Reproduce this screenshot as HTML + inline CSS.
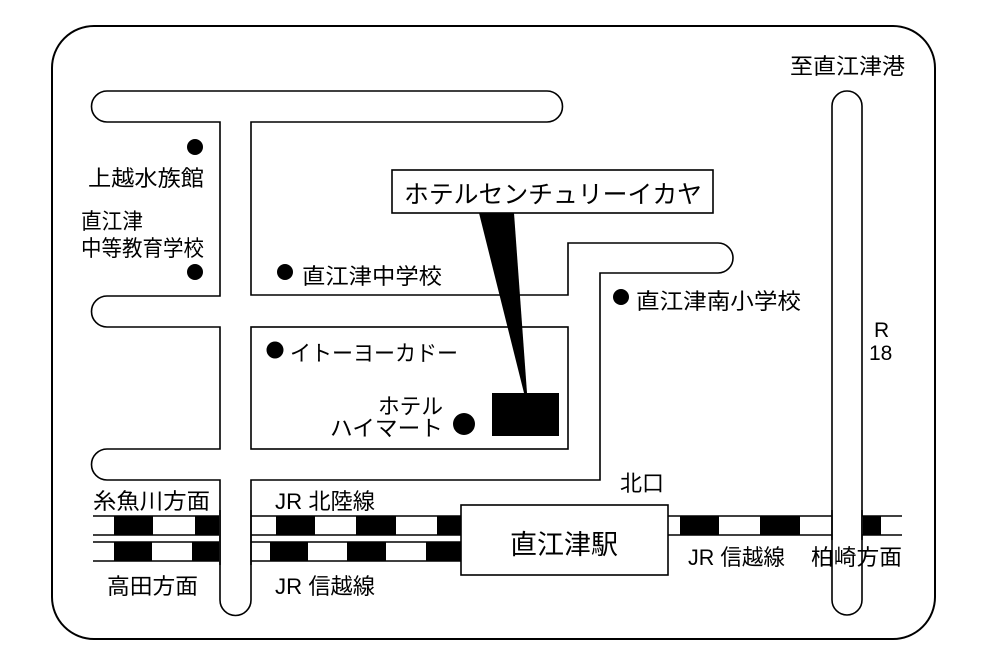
<!DOCTYPE html>
<html><head><meta charset="utf-8"><style>
html,body{margin:0;padding:0;background:#fff;}
svg{display:block;}
text{font-family:"Liberation Sans","Noto Sans CJK JP",sans-serif;fill:#000;}
</style></head><body>
<svg width="987" height="663" viewBox="0 0 987 663" xmlns="http://www.w3.org/2000/svg">
<rect x="0" y="0" width="987" height="663" fill="#fff"/>
<rect x="52" y="26" width="883" height="613" rx="42" ry="42" fill="none" stroke="#000" stroke-width="2"/>
<g fill="none" stroke="#000" stroke-width="1.6">
<path d="M107 91 H547 A15.5 15.5 0 0 1 547 122 H251 V295 H568 V243 H718 A15 15 0 0 1 718 273 H600 V480 H251 V600 A15.5 15.5 0 0 1 220 600 V480 H107 A15.5 15.5 0 0 1 107 449 H220 V327 H107 A15.5 15.5 0 0 1 107 296 H220 V122 H107 A15.5 15.5 0 0 1 107 91 Z"/>
<rect x="251" y="327" width="317" height="122"/>
<path d="M832 600 V106 A15 15 0 0 1 862 106 V600 A15 15 0 0 1 832 600"/>
</g>
<!-- rails -->
<g fill="#fff">
<rect x="93" y="516" width="126" height="19"/>
<rect x="93" y="542" width="126" height="19"/>
<rect x="252" y="516" width="209" height="19"/>
<rect x="252" y="542" width="209" height="19"/>
<rect x="668" y="516" width="163" height="19"/>
<rect x="863" y="516" width="39" height="19"/>
</g>
<g stroke="#000" stroke-width="1.4">
<line x1="93" y1="516" x2="219" y2="516"/><line x1="93" y1="535" x2="219" y2="535"/>
<line x1="93" y1="542" x2="219" y2="542"/><line x1="93" y1="561" x2="219" y2="561"/>
<line x1="251" y1="516" x2="461" y2="516"/><line x1="251" y1="535" x2="461" y2="535"/>
<line x1="251" y1="542" x2="461" y2="542"/><line x1="251" y1="561" x2="461" y2="561"/>
<line x1="668" y1="516" x2="832" y2="516"/><line x1="668" y1="535" x2="832" y2="535"/>
<line x1="862" y1="516" x2="902" y2="516"/><line x1="862" y1="535" x2="902" y2="535"/>
</g>
<g fill="#000">
<rect x="114" y="516" width="39" height="19"/><rect x="195" y="516" width="24" height="19"/>
<rect x="114" y="542" width="38" height="19"/><rect x="192" y="542" width="27" height="19"/>
<rect x="276" y="516" width="39" height="19"/><rect x="356" y="516" width="40" height="19"/><rect x="437" y="516" width="24" height="19"/>
<rect x="270" y="542" width="38" height="19"/><rect x="347" y="542" width="39" height="19"/><rect x="426" y="542" width="35" height="19"/>
<rect x="680" y="516" width="39" height="19"/><rect x="760" y="516" width="40" height="19"/><rect x="863" y="516" width="18" height="19"/>
</g>
<g stroke="#000" stroke-width="1.6">
<line x1="832" y1="510" x2="832" y2="540"/><line x1="862" y1="510" x2="862" y2="540"/>
<line x1="220" y1="510" x2="220" y2="565"/><line x1="251" y1="510" x2="251" y2="565"/>
</g>
<rect x="461" y="505" width="207" height="70" fill="#fff" stroke="#000" stroke-width="1.6"/>
<text x="510" y="554" font-size="27" textLength="108" lengthAdjust="spacingAndGlyphs">直江津駅</text>
<rect x="392" y="170" width="321" height="43" fill="#fff" stroke="#000" stroke-width="1.6"/>
<text x="404" y="203" font-size="25" textLength="298" lengthAdjust="spacingAndGlyphs">ホテルセンチュリーイカヤ</text>
<polygon points="479,213 514,213 527,393 524,393" fill="#000"/>
<rect x="492" y="393" width="67" height="43" fill="#000"/>
<g fill="#000">
<circle cx="195" cy="147" r="8"/>
<circle cx="195" cy="272" r="8"/>
<circle cx="285" cy="272" r="8"/>
<circle cx="621" cy="297" r="8"/>
<circle cx="275" cy="350" r="8.5"/>
<circle cx="464" cy="424" r="11"/>
</g>
<g font-size="22">
<text x="790" y="74" textLength="115" lengthAdjust="spacingAndGlyphs">至直江津港</text>
<text x="88" y="186" textLength="116" lengthAdjust="spacingAndGlyphs">上越水族館</text>
<text x="81" y="229" textLength="62" lengthAdjust="spacingAndGlyphs">直江津</text>
<text x="81" y="256" textLength="123" lengthAdjust="spacingAndGlyphs">中等教育学校</text>
<text x="302" y="284" textLength="140" lengthAdjust="spacingAndGlyphs">直江津中学校</text>
<text x="636" y="309" textLength="165" lengthAdjust="spacingAndGlyphs">直江津南小学校</text>
<text x="290" y="361" textLength="168" lengthAdjust="spacingAndGlyphs">イトーヨーカドー</text>
<text x="378" y="414" textLength="65" lengthAdjust="spacingAndGlyphs">ホテル</text>
<text x="330" y="436" textLength="113" lengthAdjust="spacingAndGlyphs">ハイマート</text>
<text x="620" y="491" textLength="44" lengthAdjust="spacingAndGlyphs">北口</text>
<text x="93" y="509" textLength="117" lengthAdjust="spacingAndGlyphs">糸魚川方面</text>
<text x="275" y="509" textLength="100" lengthAdjust="spacingAndGlyphs">JR 北陸線</text>
<text x="107" y="594" textLength="91" lengthAdjust="spacingAndGlyphs">高田方面</text>
<text x="275" y="594" textLength="100" lengthAdjust="spacingAndGlyphs">JR 信越線</text>
<text x="688" y="565" textLength="97" lengthAdjust="spacingAndGlyphs">JR 信越線</text>
<text x="811" y="565" textLength="91" lengthAdjust="spacingAndGlyphs">柏崎方面</text>
<text x="874" y="337" font-size="21">R</text>
<text x="869" y="360" font-size="21">18</text>
</g>
</svg>
</body></html>
